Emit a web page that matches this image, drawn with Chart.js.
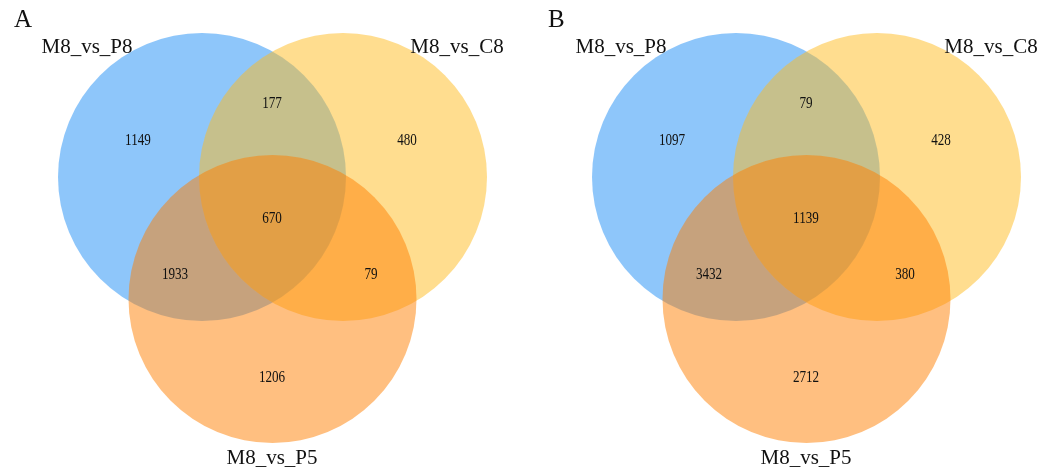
<!DOCTYPE html>
<html>
<head>
<meta charset="utf-8">
<script src="https://cdn.jsdelivr.net/npm/chart.js@4.4.1/dist/chart.umd.min.js"></script>
<style>
  html, body { margin: 0; padding: 0; background: #ffffff; }
  #wrap { width: 1054px; height: 467px; position: relative; }
</style>
</head>
<body>
<div id="wrap"><canvas id="venn"></canvas></div>
<script>
// Set names and region counts (order: only P8, only C8, only P5, P8∩C8, P8∩P5, C8∩P5, all three)
const setNames = ['M8_vs_P8', 'M8_vs_C8', 'M8_vs_P5'];
const panelTitles = ['A', 'B'];
const countsA = [1149, 480, 1206, 177, 1933, 79, 670];
const countsB = [1097, 428, 2712, 79, 3432, 380, 1139];
const setColors = ['rgba(29,141,245,0.5)', 'rgba(255,187,31,0.5)', 'rgba(255,127,1,0.5)'];

// Layout of one three-circle panel (drawing units, 1 unit = 1 px)
const R = 144;
const circleCenters = [{ x: 202, y: 177 }, { x: 343, y: 177 }, { x: 272.5, y: 299 }];
const regionSpots = [
  { x: 138, y: 141 }, { x: 407, y: 141 }, { x: 272, y: 378 },
  { x: 272, y: 104 }, { x: 175, y: 275 }, { x: 371, y: 275 }, { x: 272, y: 219 }
];
const nameSpots = [{ x: 87, y: 47 }, { x: 457, y: 47 }, { x: 272, y: 458 }];
const titleSpot = { x: 14, y: 20 };
const panelOffsets = [0, 534];

const panels = [countsA, countsB];

const datasets = panelOffsets.map((dx, p) => ({
  label: panelTitles[p],
  data: circleCenters.map(c => ({ x: c.x + dx, y: c.y, r: R })),
  backgroundColor: setColors,
  borderWidth: 0,
  clip: false
}));

const vennText = {
  id: 'vennText',
  afterDatasetsDraw(chart) {
    const { ctx, scales: { x, y } } = chart;
    ctx.save();
    ctx.fillStyle = '#111111';
    ctx.textBaseline = 'middle';
    panelOffsets.forEach((dx, p) => {
      // region counts
      panels[p].forEach((v, i) => {
        const px = x.getPixelForValue(regionSpots[i].x + dx);
        const py = y.getPixelForValue(regionSpots[i].y);
        ctx.save();
        ctx.translate(px, py);
        ctx.scale(0.82, 1);
        ctx.font = '16px "Liberation Serif", "Times New Roman", serif';
        ctx.textAlign = 'center';
        ctx.fillText(String(v), 0, 0);
        ctx.restore();
      });
      // set names
      ctx.font = '21px "Liberation Serif", "Times New Roman", serif';
      ctx.textAlign = 'center';
      setNames.forEach((n, i) => {
        ctx.fillText(n, x.getPixelForValue(nameSpots[i].x + dx), y.getPixelForValue(nameSpots[i].y));
      });
      // panel letter
      ctx.font = '25px "Liberation Serif", "Times New Roman", serif';
      ctx.textAlign = 'left';
      ctx.fillText(panelTitles[p], x.getPixelForValue(titleSpot.x + dx), y.getPixelForValue(titleSpot.y));
    });
    ctx.restore();
  }
};

new Chart(document.getElementById('venn'), {
  type: 'bubble',
  data: { datasets },
  options: {
    responsive: true,
    maintainAspectRatio: false,
    animation: false,
    events: [],
    layout: { padding: 0, autoPadding: false },
    plugins: { legend: { display: false }, tooltip: { enabled: false } },
    scales: {
      x: { type: 'linear', min: 0, max: 1054, display: false },
      y: { type: 'linear', min: 0, max: 467, reverse: true, display: false }
    }
  },
  plugins: [vennText]
});
</script>
</body>
</html>
